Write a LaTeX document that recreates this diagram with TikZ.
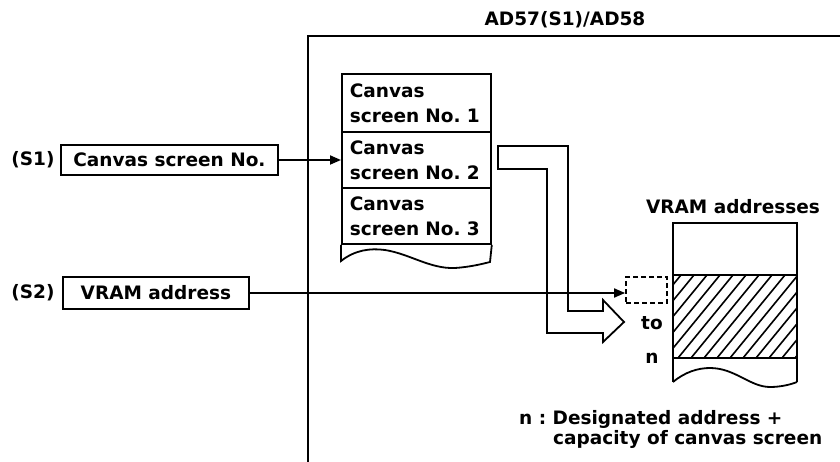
\documentclass[tikz,border=0pt]{standalone}
\usepackage{fontspec}
\setmainfont{DejaVu Sans}
\usetikzlibrary{arrows.meta}
\frenchspacing
\tikzset{
  ln/.style={line width=1.8pt},
  lbl/.style={font=\fontsize{18.5}{25}\selectfont\bfseries, inner sep=0pt},
  box/.style={ln, draw, rectangle, inner sep=0pt, font=\fontsize{18.5}{25}\selectfont\bfseries},
  cbox/.style={box, anchor=north west, minimum width=149pt, text width=133pt, inner xsep=8pt, align=left},
  arr/.style={ln, -{Triangle[length=11pt,width=9pt]}},
}
\begin{document}
\begin{tikzpicture}[x=1pt,y=-1pt]
\useasboundingbox (0,0) rectangle (840,462);
% frame
\coordinate (fb) at (308,462);
\coordinate (ft) at (308,36);
\coordinate (fr) at (840,36);
\draw[ln] (fb) -- (ft) -- (fr);
\node[lbl] (title) at (565,20) {AD57(S1)/AD58};
% inputs
\node[lbl] (s1lab) at (33,160) {(S1)};
\node[box, minimum width=217pt, minimum height=30pt, anchor=west] (s1) at (60,160) {Canvas screen No.};
\node[lbl] (s2lab) at (33,293) {(S2)};
\node[box, minimum width=186pt, minimum height=32pt, anchor=west] (s2) at (62,293) {VRAM address};
% canvas stack
\node[cbox, minimum height=58pt] (c1) at (341,73) {Canvas\\screen No. 1};
\node[cbox, minimum height=56pt] (c2) at (341,131) {Canvas\\screen No. 2};
\node[cbox, minimum height=56pt] (c3) at (341,187) {Canvas\\screen No. 3};
\draw[ln] (c3.south west) -- (341,261)
  .. controls (355,250) and (370,248) .. (385,250)
  .. controls (410,254) and (430,269) .. (455,268)
  .. controls (470,267) and (482,264) .. (490,262) -- (c3.south east);
\draw[arr] (s1.east) -- (c2.west |- s1.east);
% hollow bent arrow
\draw[ln, line join=miter] (498,146) -- (568,146) -- (568,311) -- (603,311) -- (603,300) -- (624,322)
  -- (603,342) -- (603,333) -- (547,333) -- (547,169) -- (498,169) -- cycle;
% VRAM column
\node[lbl] (vt) at (733,207) {VRAM addresses};
\begin{scope}
  \clip (673,275) rectangle (797,358);
  \foreach \x in {600,613,...,800} \draw[line width=1.6pt] ({\x},358) -- ({\x+68},275);
\end{scope}
\draw[ln] (673,382) -- (673,223) -- (797,223) -- (797,382);
\draw[ln] (673,275) -- (797,275);
\draw[ln] (673,358) -- (797,358);
\draw[ln] (673,382)
  .. controls (685,372) and (698,368) .. (710,368)
  .. controls (735,368) and (750,387) .. (770,387)
  .. controls (782,387) and (792,384) .. (797,382);
\node[draw, ln, dash pattern=on 5pt off 3pt, minimum width=41pt, minimum height=26pt, inner sep=0pt] (dbox) at (646.5,290) {};
\draw[arr] (s2.east) -- (dbox.west |- s2.east);
\node[lbl] (to) at (652,323) {to};
\node[lbl] (n) at (652,358) {n};
\node[lbl, anchor=base west] (note1) at (519,424) {n : Designated address +};
\node[lbl, anchor=base west] (note2) at (553,444) {capacity of canvas screen};
\end{tikzpicture}
\end{document}
